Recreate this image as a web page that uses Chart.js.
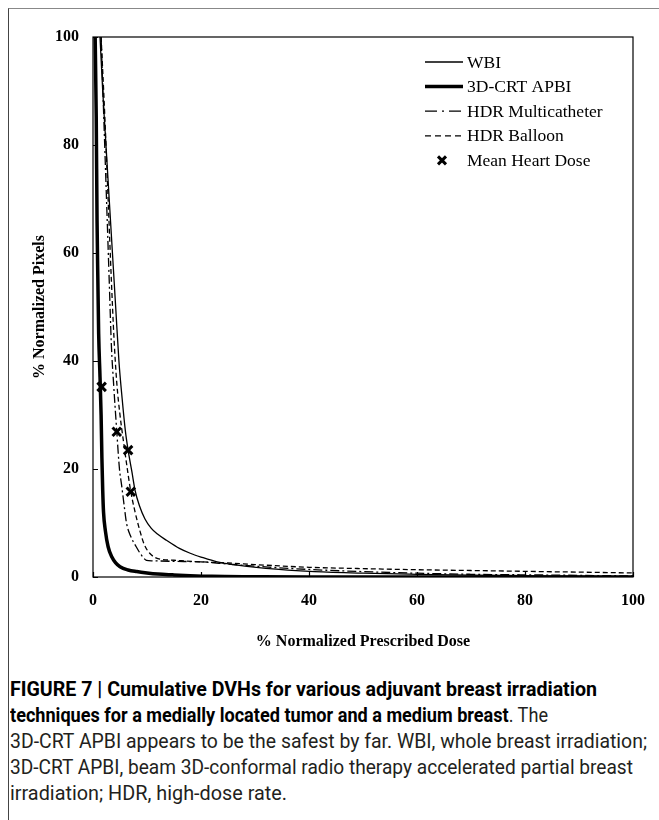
<!DOCTYPE html>
<html>
<head>
<meta charset="utf-8">
<script src="https://cdn.jsdelivr.net/npm/chart.js@4"></script>
<style>
  html, body { margin: 0; padding: 0; background: #fff; }
  body { width: 659px; height: 820px; position: relative; overflow: hidden; }
  #frame {
    position: absolute; left: 8px; top: 8px; width: 700px; height: 900px;
    border-left: 1px solid #444; border-top: 1px solid #888;
  }
  #chartBox { position: absolute; left: 0; top: 0; width: 659px; height: 660px; }
  #caption {
    position: absolute; left: 10px; top: 676px;
    font-family: Roboto, "Liberation Sans", sans-serif; font-size: 21px;
    line-height: 26px; color: #231f20;
  }
  #caption .ln { display: block; white-space: nowrap; }
  #caption .ln span.fit { display: inline-block; transform-origin: 0 0; }
  #caption b { color: #000; }
</style>
</head>
<body>
<div id="frame"></div>
<div id="chartBox"><canvas id="dvhChart" width="659" height="660"></canvas></div>
<div id="caption">
  <div class="ln" data-w="587"><span class="fit"><b>FIGURE 7 | Cumulative DVHs for various adjuvant breast irradiation</b></span></div>
  <div class="ln" data-w="538"><span class="fit"><b>techniques for a medially located tumor and a medium breast</b>. The</span></div>
  <div class="ln" data-w="637"><span class="fit">3D-CRT APBI appears to be the safest by far. WBI, whole breast irradiation;</span></div>
  <div class="ln" data-w="623"><span class="fit">3D-CRT APBI, beam 3D-conformal radio therapy accelerated partial breast</span></div>
  <div class="ln" data-w="277"><span class="fit">irradiation; HDR, high-dose rate.</span></div>
</div>

<script>
/* -------------------- data -------------------- */
const axisTicks = [0, 20, 40, 60, 80, 100];

// WBI — thin solid
const wbiDose   = [1.3, 1.8, 2.4, 3.0, 3.6, 4.2, 4.8, 5.4, 6.0, 6.5, 7.2, 7.8, 8.6, 9.6, 10.8, 12, 13.6, 16, 18, 20, 23, 26, 32, 41, 50, 60, 70, 80, 90, 100];
const wbiPixels = [100, 90, 80, 70, 60, 50, 40, 33, 27, 23.5, 19.5, 16, 13.2, 10.8, 9.0, 7.9, 6.8, 5.3, 4.4, 3.7, 2.8, 2.3, 1.6, 1.0, 0.7, 0.5, 0.35, 0.25, 0.15, 0.1];

// 3D-CRT APBI — thick solid
const apbiDose   = [0.4, 0.6, 0.75, 0.9, 1.05, 1.3, 1.5, 1.65, 1.8, 1.95, 2.3, 2.8, 3.5, 4.2, 5, 6.5, 8.1, 10, 12, 14.8, 18, 22, 30, 40, 100];
const apbiPixels = [100, 85, 66, 55, 45, 37, 30, 22, 16, 12, 8.5, 5.6, 3.7, 2.6, 1.9, 1.3, 1.0, 0.75, 0.55, 0.4, 0.25, 0.12, 0.05, 0, 0];

// HDR Multicatheter — dash-dot
const mcDose   = [1.5, 2.0, 2.5, 3.0, 3.4, 3.8, 4.4, 4.9, 5.3, 5.8, 6.2, 7.0, 8.0, 9.0, 9.9, 11, 15, 20, 25, 30, 40, 50, 60, 70, 80, 90, 100];
const mcPixels = [100, 85, 70, 55, 43, 36, 27, 20, 17, 13, 10, 7.5, 5.6, 4.0, 3.1, 3.0, 2.9, 2.8, 2.4, 2.0, 1.4, 1.0, 0.7, 0.5, 0.4, 0.3, 0.2];

// HDR Balloon — dashed
const balDose   = [1.5, 2.2, 2.8, 3.4, 3.9, 4.4, 5.0, 5.8, 6.5, 7.0, 7.8, 8.7, 9.5, 10.5, 12, 15, 20, 25, 30, 40, 50, 60, 70, 80, 90, 100];
const balPixels = [100, 85, 70, 55, 44, 36, 30, 24, 19, 15.8, 12, 8.5, 6.0, 4.4, 3.4, 3.1, 2.8, 2.6, 2.3, 1.8, 1.55, 1.35, 1.2, 1.05, 0.9, 0.75];

// Mean heart dose markers (APBI, Multicatheter, WBI, Balloon)
const mhdDose   = [1.6, 4.4, 6.5, 7.0];
const mhdPixels = [35.2, 26.9, 23.5, 15.8];

/* -------------------- helpers -------------------- */
const toPoints = (xs, ys) => xs.map((x, i) => ({ x, y: ys[i] }));

function curve(label, xs, ys, width, dash) {
  return {
    label,
    data: toPoints(xs, ys),
    showLine: true,
    borderColor: '#000',
    backgroundColor: '#000',
    borderWidth: width,
    borderDash: dash,
    pointRadius: 0,
    cubicInterpolationMode: 'monotone',
    fill: false
  };
}

const SERIF = '"Liberation Serif", "Times New Roman", serif';

/* -------------------- frame, inner ticks, legend -------------------- */
const framePlugin = {
  id: 'frame',
  afterDraw(chart) {
    const { ctx, chartArea: a, scales } = chart;
    ctx.save();
    ctx.strokeStyle = '#000';
    ctx.lineWidth = 1.2;
    ctx.strokeRect(a.left, a.top, a.right - a.left, a.bottom - a.top);

    // ticks point inward
    ctx.beginPath();
    scales.x.ticks.forEach((t) => {
      const px = Math.round(scales.x.getPixelForValue(t.value)) + 0.5;
      ctx.moveTo(px, a.bottom);
      ctx.lineTo(px, a.bottom - 5);
    });
    scales.y.ticks.forEach((t) => {
      const py = Math.round(scales.y.getPixelForValue(t.value)) + 0.5;
      ctx.moveTo(a.left, py);
      ctx.lineTo(a.left + 5, py);
    });
    ctx.stroke();
    ctx.restore();
  }
};

const legendPlugin = {
  id: 'boxLegend',
  afterDraw(chart) {
    const { ctx, chartArea: a } = chart;
    const x0 = a.left + 332;
    const sample = 38;
    let y = a.top + 25;
    ctx.save();
    ctx.font = `17.5px ${SERIF}`;
    ctx.fillStyle = '#000';
    ctx.textBaseline = 'middle';
    chart.data.datasets.forEach((ds) => {
      ctx.strokeStyle = '#000';
      if (ds.showLine) {
        ctx.lineWidth = ds.borderWidth;
        ctx.setLineDash(ds.legendDash || ds.borderDash || []);
        ctx.beginPath();
        ctx.moveTo(x0, y);
        ctx.lineTo(x0 + sample, y);
        ctx.stroke();
      } else {
        ctx.setLineDash([]);
        ctx.lineWidth = 3;
        const cx = x0 + 17, r = 4;
        ctx.beginPath();
        ctx.moveTo(cx - r, y - r); ctx.lineTo(cx + r, y + r);
        ctx.moveTo(cx + r, y - r); ctx.lineTo(cx - r, y + r);
        ctx.stroke();
      }
      ctx.fillText(ds.label, x0 + 42, y + 1);
      y += 24.6;
    });
    ctx.restore();
  }
};

/* -------------------- chart -------------------- */
const datasets = [
  curve('WBI', wbiDose, wbiPixels, 1.3, []),
  curve('3D-CRT APBI', apbiDose, apbiPixels, 3.5, []),
  Object.assign(curve('HDR Multicatheter', mcDose, mcPixels, 1.3, [9, 3, 2, 3]), { legendDash: [12, 5, 2, 5] }),
  Object.assign(curve('HDR Balloon', balDose, balPixels, 1.3, [5, 3]), { legendDash: [6, 4] }),
  {
    label: 'Mean Heart Dose',
    data: toPoints(mhdDose, mhdPixels),
    showLine: false,
    pointStyle: 'crossRot',
    pointRadius: 6,
    pointBorderWidth: 3,
    borderColor: '#000',
    backgroundColor: '#000'
  }
];

const tickFont = { family: SERIF, size: 16, weight: 'bold' };

new Chart(document.getElementById('dvhChart').getContext('2d'), {
  type: 'scatter',
  data: { datasets },
  options: {
    responsive: false,
    animation: false,
    layout: { padding: { left: 0, top: 37, right: 26, bottom: 0 } },
    plugins: { legend: { display: false }, tooltip: { enabled: false } },
    scales: {
      x: {
        type: 'linear', min: 0, max: 100,
        afterBuildTicks: (s) => { s.ticks = axisTicks.map((v) => ({ value: v })); },
        afterFit: (s) => { s.height = 83; },
        grid: { display: false, drawTicks: false },
        border: { display: false },
        ticks: { color: '#000', font: tickFont, padding: 14 },
        title: {
          display: true, text: '% Normalized Prescribed Dose', color: '#000',
          font: tickFont, padding: { top: 0, bottom: 9 }
        }
      },
      y: {
        type: 'linear', min: 0, max: 100,
        afterBuildTicks: (s) => { s.ticks = axisTicks.map((v) => ({ value: v })); },
        afterFit: (s) => { s.width = 93; },
        grid: { display: false, drawTicks: false },
        border: { display: false },
        ticks: { color: '#000', font: tickFont, padding: 14 },
        title: {
          display: true, text: '% Normalized Pixels', color: '#000',
          font: tickFont, padding: { top: 30, bottom: 0 }
        }
      }
    }
  },
  plugins: [framePlugin, legendPlugin]
});

/* -------------------- caption: squeeze each line to the printed width -------------------- */
document.querySelectorAll('#caption .ln').forEach((ln) => {
  const span = ln.querySelector('.fit');
  const w = span.getBoundingClientRect().width;
  const target = Number(ln.dataset.w);
  if (w > 0) span.style.transform = `scaleX(${target / w})`;
});
</script>
</body>
</html>
